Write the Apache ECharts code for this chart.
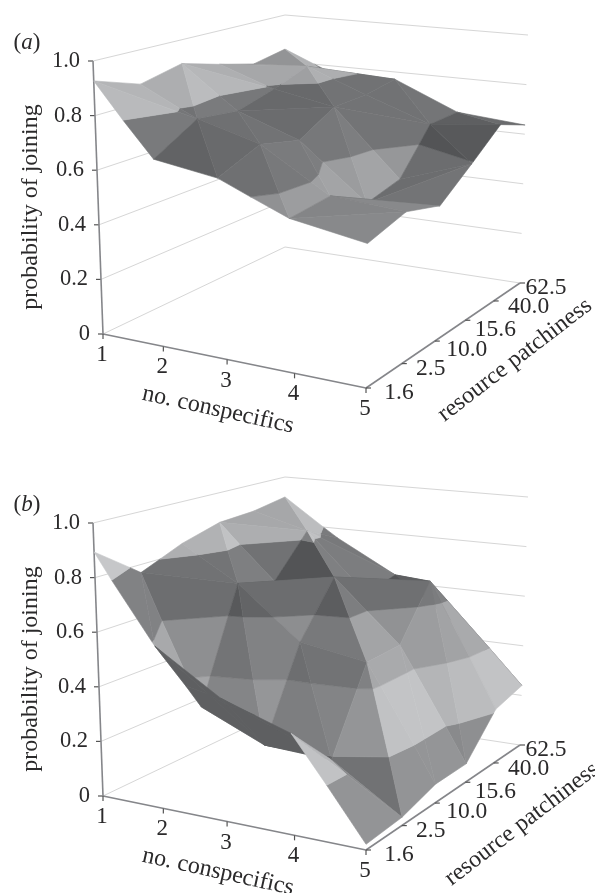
<!DOCTYPE html>
<html><head><meta charset="utf-8">
<style>html,body{margin:0;padding:0;background:#fff}#c{width:595px;height:893px}</style>
<script src="https://cdn.jsdelivr.net/npm/echarts@6/dist/echarts.min.js"></script>
</head><body><div id="c"></div>
<script>
// ---- data ----
const conspecifics = ['1','2','3','4','5'];
const patchiness = ['1.6','2.5','10.0','15.6','40.0','62.5'];
const probTicks = ['0','0.2','0.4','0.6','0.8','1.0'];
// rows: no. conspecifics 1..5, columns: patchiness 1.6..62.5
const joiningA = [
 [.927,.87,.907,.864,.827,.853],
 [.676,.77,.75,.79,.84,.76],
 [.647,.71,.67,.747,.75,.77],
 [.547,.56,.47,.50,.66,.66],
 [.507,.546,.50,.595,.69,.637]];
const joiningB = [
 [.894,.77,.837,.88,.889,.914],
 [.586,.30,.71,.67,.83,.76],
 [.44,.20,.52,.716,.60,.63],
 [.36,.19,.48,.485,.68,.45],
 [.02,.03,.07,.07,.21,.24]];

// ---- view ----
const floorQuad = [[103,334],[366,388],[520,283],[285,247]];
const topQuad   = [[93,61],[369,103],[528,35],[285,15]];
const bandFill = [128,168,146,112,172];
const LIGHT = [0.80,0.20,0.30];
const depthNudge = [[33,5],[29,5],[32,9],[30,10],[35,6],[26,5]];

function homography(q){
  const [[x0,y0],[x1,y1],[x2,y2],[x3,y3]] = q;
  const dx1=x1-x2,dx2=x3-x2,sx=x0-x1+x2-x3,dy1=y1-y2,dy2=y3-y2,sy=y0-y1+y2-y3;
  const den=dx1*dy2-dx2*dy1;
  const g=(sx*dy2-dx2*sy)/den,h=(dx1*sy-sx*dy1)/den;
  const a=x1-x0+g*x1,b=x3-x0+h*x3,d=y1-y0+g*y1,e=y3-y0+h*y3;
  return (u,v)=>{const w=g*u+h*v+1;return [(a*u+b*v+x0)/w,(d*u+e*v+y0)/w];};
}
const floorAt=homography(floorQuad), topAt=homography(topQuad);
function project(i,j,z,dy){
  const u=i/(conspecifics.length-1),v=j/(patchiness.length-1);
  const f=floorAt(u,v),t=topAt(u,v);
  return [f[0]+(t[0]-f[0])*z,f[1]+(t[1]-f[1])*z+dy];
}
function clipBand(tri,lo,hi){
  const cut=(poly,lev,keepAbove)=>{
    const out=[];
    for(let k=0;k<poly.length;k++){
      const a=poly[k],b=poly[(k+1)%poly.length];
      const ia=keepAbove?a[2]>=lev:a[2]<=lev, ib=keepAbove?b[2]>=lev:b[2]<=lev;
      if(ia) out.push(a);
      if(ia!==ib){const t=(lev-a[2])/(b[2]-a[2]);out.push([a[0]+(b[0]-a[0])*t,a[1]+(b[1]-a[1])*t,lev]);}
    }
    return out;
  };
  return cut(cut(tri,lo,true),hi,false);
}
function surfacePolys(z,dy){
  const tris=[];
  for(let i=0;i<z.length-1;i++)for(let j=0;j<z[0].length-1;j++){
    const p=(a,b)=>[a,b,z[a][b]];
    const A=p(i,j),B=p(i+1,j),C=p(i+1,j+1),D=p(i,j+1);
    // the fold follows the higher diagonal
    if(A[2]+C[2]>=B[2]+D[2]) tris.push([A,B,C],[A,C,D]);
    else tris.push([A,B,D],[B,C,D]);
  }
  const key=t=>(t[0][0]+t[1][0]+t[2][0])/4-(t[0][1]+t[1][1]+t[2][1])/5;
  tris.sort((a,b)=>key(a)-key(b));
  const polys=[];
  tris.forEach(t=>{
    const e1=[(t[1][0]-t[0][0])/4,(t[1][1]-t[0][1])/5,t[1][2]-t[0][2]];
    const e2=[(t[2][0]-t[0][0])/4,(t[2][1]-t[0][1])/5,t[2][2]-t[0][2]];
    let n=[e1[1]*e2[2]-e1[2]*e2[1],e1[2]*e2[0]-e1[0]*e2[2],e1[0]*e2[1]-e1[1]*e2[0]];
    const s=Math.sign(n[2])||1, len=Math.hypot(...n); n=n.map(c=>c*s/len);
    const lit=Math.max(0,n[0]*LIGHT[0]+n[1]*LIGHT[1]+n[2]*LIGHT[2]);
    const P=t.map(q=>project(q[0],q[1],q[2],0));
    const area=(P[1][0]-P[0][0])*(P[2][1]-P[0][1])-(P[2][0]-P[0][0])*(P[1][1]-P[0][1]);
    const o=(t[1][0]-t[0][0])*(t[2][1]-t[0][1])-(t[2][0]-t[0][0])*(t[1][1]-t[0][1]);
    const under=Math.sign(area)===Math.sign(o); // seen from below
    for(let b=0;b<5;b++){
      const poly=clipBand(t,b/5,(b+1)/5);
      if(poly.length<3)continue;
      const g=under?94:Math.round(bandFill[b]*(0.74+0.5*lit));
      polys.push({pts:poly.map(q=>project(q[0],q[1],q[2],dy)),g});
    }
  });
  return polys;
}
const FONT='"Liberation Serif","Times New Roman",serif', INK='#2b2a2b';
function panelItems(dy){
  const nI=conspecifics.length-1,nJ=patchiness.length-1,lines=[],texts=[];
  const wall='#d6d6d6',axis='#85868a';
  for(let k=0;k<probTicks.length;k++){
    const z=k/(probTicks.length-1);
    lines.push({a:project(0,0,z,dy),b:project(0,nJ,z,dy),c:wall,w:1});
    lines.push({a:project(0,nJ,z,dy),b:project(nI,nJ,z,dy),c:wall,w:1});
    const p=project(0,0,z,dy);
    lines.push({a:[p[0]-5,p[1]],b:p,c:'#555',w:1.2});
    texts.push({t:probTicks[k],x:p[0]-13,y:p[1],align:'right',s:22.5});
  }
  lines.push({a:project(0,0,0,dy),b:project(0,0,1,dy),c:axis,w:1.6});
  lines.push({a:project(0,0,0,dy),b:project(nI,0,0,dy),c:axis,w:1.6});
  lines.push({a:project(nI,0,0,dy),b:project(nI,nJ,0,dy),c:axis,w:1.6});
  conspecifics.forEach((l,i)=>{
    const p=project(i,0,0,dy);
    lines.push({a:p,b:[p[0],p[1]+5],c:'#555',w:1.2});
    texts.push({t:l,x:p[0]-1,y:p[1]+21,align:'center',s:23});
  });
  patchiness.forEach((l,j)=>{
    const p=project(nI,j,0,dy);
    lines.push({a:p,b:[p[0]+5,p[1]],c:'#555',w:1.2});
    texts.push({t:l,x:p[0]+depthNudge[j][0],y:p[1]+depthNudge[j][1],align:'center',s:23.5});
  });
  return {lines,texts};
}
const pad=462;
const surfaces=[surfacePolys(joiningA,0),surfacePolys(joiningB,pad)];
const frames=[panelItems(0),panelItems(pad)];
const titles=[
 {t:'probability of joining',x:31,y:207,r:90,s:24},
 {t:'no. conspecifics',x:218,y:410,r:-12.5,s:24},
 {t:'resource patchiness',x:515,y:360,r:37.5,s:24},
 {t:'probability of joining',x:31,y:669,r:90,s:24},
 {t:'no. conspecifics',x:218,y:872,r:-12.5,s:24},
 {t:'resource patchiness',x:522,y:824,r:37.5,s:24}
];
const polyRender=list=>(params,api)=>{
  const o=list[params.dataIndex];
  const c='rgb('+o.g+','+(o.g+1)+','+(o.g+3)+')';
  return {type:'polygon',shape:{points:o.pts.map(p=>api.coord(p))},
    style:{fill:c,stroke:c,lineWidth:.6}};
};
const lineSeries=list=>({type:'custom',silent:true,clip:false,animation:false,
  data:list.map(l=>l.a),
  renderItem:(params,api)=>{const l=list[params.dataIndex];const a=api.coord(l.a),b=api.coord(l.b);
    return {type:'line',shape:{x1:a[0],y1:a[1],x2:b[0],y2:b[1]},style:{stroke:l.c,lineWidth:l.w}};}});
const textSeries=list=>({type:'custom',silent:true,clip:false,animation:false,
  data:list.map(l=>[l.x,l.y]),
  renderItem:(params,api)=>{const l=list[params.dataIndex];const p=api.coord([l.x,l.y]);
    return {type:'text',x:p[0],y:p[1],rotation:(l.r||0)*Math.PI/180,
      style:{text:l.t,font:(l.s)+'px '+FONT,fill:INK,align:l.align||'center',verticalAlign:'middle'}};}});
const polySeries=list=>({type:'custom',silent:true,clip:false,animation:false,progressive:0,
  data:list.map(o=>o.pts[0]),renderItem:polyRender(list)});
const chart=echarts.init(document.getElementById('c'),null,{renderer:'canvas'});
chart.setOption({
  animation:false,backgroundColor:'#fff',
  grid:{left:0,right:0,top:0,bottom:0},
  xAxis:{type:'value',min:0,max:595,show:false},
  yAxis:{type:'value',min:0,max:893,inverse:true,show:false},
  series:[
    lineSeries(frames[0].lines),polySeries(surfaces[0]),textSeries(frames[0].texts),
    lineSeries(frames[1].lines),polySeries(surfaces[1]),textSeries(frames[1].texts),
    textSeries(titles),
    {type:'custom',silent:true,clip:false,animation:false,data:[[27,43],[27,505]],
     renderItem:(params,api)=>{const p=api.coord([api.value(0),api.value(1)]);
       const letter=params.dataIndex?'b':'a';
       return {type:'text',x:p[0],y:p[1],style:{
         rich:{i:{font:'italic 23px '+FONT,fill:INK},n:{font:'23px '+FONT,fill:INK}},
         text:'{n|(}{i|'+letter+'}{n|)}',align:'center',verticalAlign:'middle'}};}}
  ]
});
</script></body></html>
